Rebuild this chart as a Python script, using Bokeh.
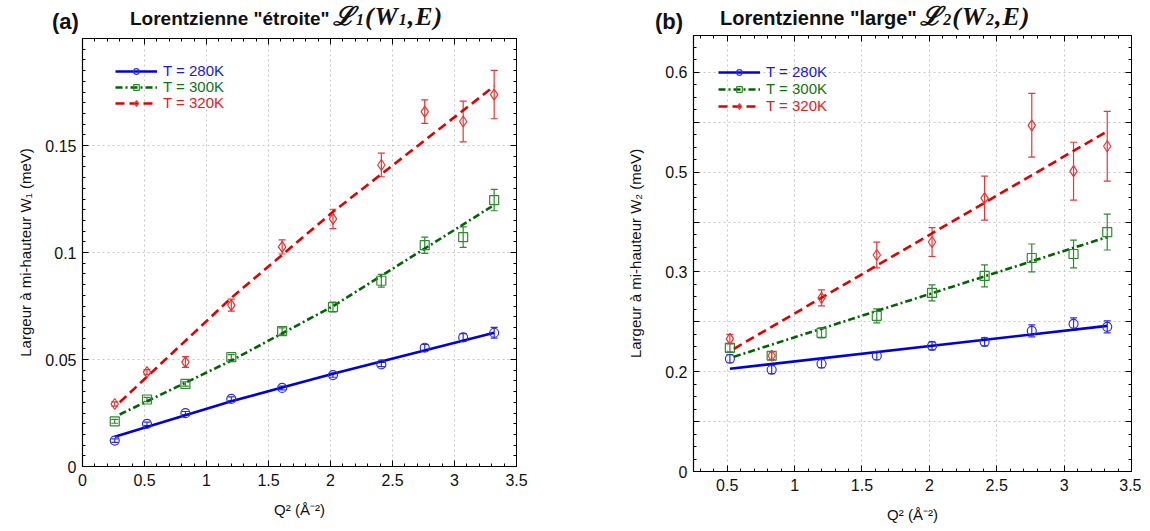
from bokeh.plotting import figure
from bokeh.models import (ColumnDataSource, Whisker, TeeHead, Legend, LegendItem,
                          LinearAxis, FixedTicker, Range1d, Div)
from bokeh.layouts import row, column
from bokeh.embed import file_html
from bokeh.resources import INLINE

# ---------------- data: panel (a) ----------------
q2_a = [0.26, 0.52, 0.83, 1.20, 1.61, 2.02, 2.41, 2.76, 3.07, 3.32]
w1_280 = [0.0121, 0.0199, 0.0249, 0.0316, 0.0367, 0.0427, 0.0477, 0.0555, 0.0603, 0.0625]
w1_280_err = [0.0008, 0.0008, 0.0008, 0.0009, 0.0009, 0.0010, 0.0010, 0.0015, 0.0018, 0.0025]
w1_300 = [0.0211, 0.0313, 0.0386, 0.0511, 0.0633, 0.0745, 0.0868, 0.1034, 0.1072, 0.1245]
w1_300_err = [0.0009, 0.0010, 0.0010, 0.0012, 0.0015, 0.0023, 0.0030, 0.0038, 0.0048, 0.0050]
w1_320 = [0.0292, 0.0441, 0.0488, 0.0754, 0.1026, 0.1157, 0.1409, 0.1658, 0.1612, 0.1738]
w1_320_err = [0.0010, 0.0012, 0.0025, 0.0028, 0.0033, 0.0045, 0.0055, 0.0055, 0.0095, 0.0113]

fit_a_280_x = [0.26, 1.20, 2.02, 3.32]
fit_a_280_y = [0.0139, 0.0305, 0.0433, 0.0625]
fit_a_300_x = [0.30, 1.20, 2.02, 3.30]
fit_a_300_y = [0.0243, 0.0495, 0.0749, 0.1215]
fit_a_320_x = [0.30, 1.20, 2.02, 3.32]
fit_a_320_y = [0.0300, 0.0788, 0.1190, 0.1777]

# ---------------- data: panel (b) ----------------
q2_b = [0.52, 0.83, 1.20, 1.61, 2.02, 2.41, 2.76, 3.07, 3.32]
w2_280 = [0.213, 0.202, 0.208, 0.216, 0.226, 0.230, 0.241, 0.248, 0.245]
w2_280_err = [0.004, 0.004, 0.004, 0.004, 0.004, 0.004, 0.006, 0.006, 0.006]
w2_300 = [0.224, 0.216, 0.239, 0.256, 0.279, 0.296, 0.314, 0.318, 0.340]
w2_300_err = [0.004, 0.004, 0.005, 0.007, 0.008, 0.011, 0.014, 0.014, 0.018]
w2_320 = [0.233, 0.216, 0.274, 0.317, 0.330, 0.374, 0.447, 0.401, 0.426]
w2_320_err = [0.0045, 0.004, 0.008, 0.013, 0.0145, 0.022, 0.032, 0.029, 0.035]

fit_b_280_x = [0.52, 3.32]
fit_b_280_y = [0.203, 0.246]
fit_b_300_x = [0.55, 3.32]
fit_b_300_y = [0.215, 0.335]
fit_b_320_x = [0.55, 3.32]
fit_b_320_y = [0.223, 0.441]

series_labels = ["T = 280K", "T = 300K", "T = 320K"]

# ticks / tick labels
x_ticks_a = [0, 0.5, 1, 1.5, 2, 2.5, 3, 3.5]
x_labels_a = ["0", "0.5", "1", "1.5", "2", "2.5", "3", "3.5"]
y_ticks_a = [0, 0.05, 0.1, 0.15]
y_labels_a = ["0", "0.05", "0.1", "0.15"]
x_ticks_b = [0.5, 1, 1.5, 2, 2.5, 3, 3.5]
x_labels_b = ["0.5", "1", "1.5", "2", "2.5", "3", "3.5"]
y_ticks_b = [0.1, 0.15, 0.2, 0.25, 0.3, 0.35, 0.4, 0.45, 0.5]
y_labels_b = ["0", "", "0.2", "", "0.3", "", "0.5", "", "0.6"]

FONT = "Liberation Sans"
line_cols = ["#0000DD", "#006400", "#E00000"]
mark_cols = ["#2E2EE0", "#2F8A2F", "#E83535"]
text_cols = ["#1818E0", "#137313", "#E52020"]
markers = ["circle", "square", "diamond"]
msizes = [9, 9, 11]
dashes = ["solid", "7 3 2 3", "9 5"]


def frange(a, b, step):
    out = []
    v = a
    while v <= b + 1e-9:
        out.append(round(v, 6))
        v += step
    return out


def style(p, xt, xl, xminor, yt, yl, yminor, xlabel, ylabel, ylab_standoff):
    xtick = FixedTicker(ticks=xt, minor_ticks=xminor)
    ytick = FixedTicker(ticks=yt, minor_ticks=yminor)
    p.xaxis.ticker = xtick
    p.yaxis.ticker = ytick
    p.xaxis.major_label_overrides = {t: l for t, l in zip(xt, xl)}
    p.yaxis.major_label_overrides = {t: l for t, l in zip(yt, yl)}
    p.xgrid.ticker = xtick
    p.ygrid.ticker = ytick
    for g in (p.xgrid, p.ygrid):
        g.grid_line_color = "#c8c8c8"
        g.grid_line_dash = "2 3"
        g.grid_line_width = 1
    for ax in (p.xaxis, p.yaxis):
        ax.axis_line_color = "black"
        ax.axis_line_width = 1.2
        ax.major_tick_in = 6
        ax.major_tick_out = 0
        ax.minor_tick_in = 3
        ax.minor_tick_out = 0
        ax.major_tick_line_color = "black"
        ax.minor_tick_line_color = "black"
        ax.major_label_text_font = FONT
        ax.major_label_text_font_size = "16px"
        ax.major_label_text_color = "#111111"
        ax.axis_label_text_font = FONT
        ax.axis_label_text_font_size = "15px"
        ax.axis_label_text_font_style = "normal"
        ax.axis_label_text_color = "#111111"
    p.xaxis.major_label_standoff = 7
    p.yaxis.major_label_standoff = 6
    p.xaxis.axis_label = xlabel
    p.yaxis.axis_label = ylabel
    p.xaxis.axis_label_standoff = 12
    p.yaxis.axis_label_standoff = ylab_standoff
    # mirrored axes (ticks only)
    top = LinearAxis(ticker=xtick, major_label_overrides={t: "" for t in xt},
                     major_label_text_font_size="0px", major_tick_in=6, major_tick_out=0,
                     minor_tick_in=3, minor_tick_out=0, axis_line_color="black",
                     major_label_standoff=0)
    right = LinearAxis(ticker=ytick, major_label_overrides={t: "" for t in yt},
                       major_label_text_font_size="0px", major_tick_in=6, major_tick_out=0,
                       minor_tick_in=3, minor_tick_out=0, axis_line_color="black",
                       major_label_standoff=0)
    p.add_layout(top, "above")
    p.add_layout(right, "right")
    p.outline_line_color = "black"
    p.background_fill_color = "white"
    p.border_fill_alpha = 0


def add_series(p, xs, ys, errs, fx, fy, i, legend_loc):
    src = ColumnDataSource(dict(x=xs, y=ys,
                                lo=[a - b for a, b in zip(ys, errs)],
                                hi=[a + b for a, b in zip(ys, errs)]))
    wh = Whisker(source=src, base="x", lower="lo", upper="hi", dimension="height",
                 line_color=mark_cols[i], line_width=1.2,
                 upper_head=TeeHead(size=7, line_color=mark_cols[i], line_width=1.2),
                 lower_head=TeeHead(size=7, line_color=mark_cols[i], line_width=1.2))
    p.add_layout(wh)
    rl = p.line(fx, fy, line_color=line_cols[i], line_width=2.6, line_dash=dashes[i])
    rm = p.scatter("x", "y", source=src, marker=markers[i], size=msizes[i],
                   fill_color=None, line_color=mark_cols[i], line_width=1.2)
    leg = Legend(items=[LegendItem(label=series_labels[i], renderers=[rl, rm])],
                 location=legend_loc, border_line_color=None, background_fill_alpha=0,
                 label_text_font=FONT, label_text_font_size="15px",
                 label_text_color=text_cols[i], glyph_width=42, glyph_height=14,
                 label_height=16, label_standoff=6, padding=0, margin=0, spacing=0)
    p.add_layout(leg)


def title_div(width, height, tag, tag_left, txt, txt_size, txt_left,
              math_main, sub1, math_mid, sub2, math_end):
    html = (
        f'<div style="position:relative;width:{width}px;height:{height}px;color:#111;overflow:visible;">'
        f'<span style="position:absolute;left:{tag_left}px;top:11px;line-height:22px;'
        f'font-family:\'Liberation Sans\';font-weight:bold;font-size:22px;white-space:nowrap;">{tag}</span>'
        f'<span style="position:absolute;left:{txt_left}px;top:3px;line-height:28px;white-space:nowrap;">'
        f'<span style="font-family:\'Liberation Sans\';font-weight:bold;font-size:{txt_size}px;">{txt}</span> '
        f'<span style="font-family:\'Liberation Serif\';font-weight:bold;font-style:italic;'
        f'font-size:26px;letter-spacing:1px;">'
        f'{math_main}<span style="font-size:16px;">{sub1}</span>{math_mid}'
        f'<span style="font-size:16px;">{sub2}</span>{math_end}</span></span></div>'
    )
    return Div(text=html, width=width, height=height, margin=(0, 0, 0, 0),
               styles={"overflow": "visible", "z-index": "5"})


# ---------------- panel (a) ----------------
pa = figure(width=588, height=498, x_range=Range1d(0, 3.5), y_range=Range1d(0, 0.2),
            output_backend="svg", toolbar_location=None,
            min_border_left=82, min_border_right=72, min_border_top=8, min_border_bottom=62)
style(pa, x_ticks_a, x_labels_a, frange(0, 3.5, 0.1), y_ticks_a, y_labels_a,
      frange(0, 0.2, 0.005), "Q\u00b2 (\u00c5\u207b\u00b2)",
      "Largeur \u00e0 mi-hauteur W\u2081 (meV)", 8)
add_series(pa, q2_a, w1_280, w1_280_err, fit_a_280_x, fit_a_280_y, 0, (33, 387))
add_series(pa, q2_a, w1_300, w1_300_err, fit_a_300_x, fit_a_300_y, 1, (33, 371))
add_series(pa, q2_a, w1_320, w1_320_err, fit_a_320_x, fit_a_320_y, 2, (33, 355))

# ---------------- panel (b) ----------------
pb = figure(width=553, height=501, x_range=Range1d(0.25, 3.5), y_range=Range1d(0.1, 0.537),
            output_backend="svg", toolbar_location=None,
            min_border_left=105, min_border_right=10, min_border_top=8, min_border_bottom=57)
style(pb, x_ticks_b, x_labels_b, frange(0.3, 3.5, 0.1), y_ticks_b, y_labels_b,
      frange(0.1, 0.537, 0.0125), "Q\u00b2 (\u00c5\u207b\u00b2)",
      "Largeur \u00e0 mi-hauteur W\u2082 (meV)", 18)
add_series(pb, q2_b, w2_280, w2_280_err, fit_b_280_x, fit_b_280_y, 0, (25, 391))
add_series(pb, q2_b, w2_300, w2_300_err, fit_b_300_x, fit_b_300_y, 1, (25, 374))
add_series(pb, q2_b, w2_320, w2_320_err, fit_b_320_x, fit_b_320_y, 2, (25, 357))

div_a = title_div(588, 30, "(a)", 52, "Lorentzienne \"\u00e9troite\"", 19, 130,
                  "\u2112", "1", "(W", "1", ",E)")
div_b = title_div(553, 27, "(b)", 67, "Lorentzienne \"large\"", 20, 132,
                  "\u2112", "2", "(W", "2", ",E)")

layout = row(column(div_a, pa), column(div_b, pb))
open("out.html", "w").write(file_html(layout, INLINE))
